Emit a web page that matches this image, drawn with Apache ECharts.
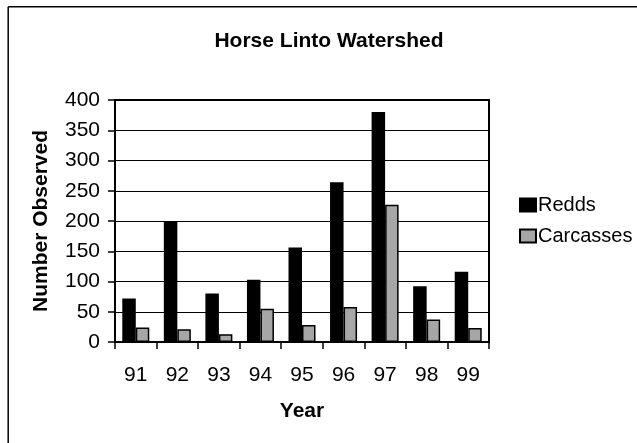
<!DOCTYPE html>
<html>
<head>
<meta charset="utf-8">
<script src="https://cdn.jsdelivr.net/npm/echarts@6/dist/echarts.min.js"></script>
<style>
  html, body { margin: 0; padding: 0; background: #fff; }
  #chart { width: 637px; height: 443px; }
</style>
</head>
<body>
<div id="chart"></div>
<script>
// Horse Linto Watershed: redds and carcasses counted per survey year
const years = ['91', '92', '93', '94', '95', '96', '97', '98', '99'];
const redds = [72, 200, 80, 103, 156, 264, 380, 92, 116];
const carcasses = [24, 21, 13, 55, 28, 58, 227, 37, 23];
const yTicks = { min: 0, max: 400, interval: 50 };

const FONT = '"Liberation Sans", Arial, sans-serif';

const chart = echarts.init(document.getElementById('chart'), null, { renderer: 'canvas' });

chart.setOption({
  animation: false,
  backgroundColor: '#ffffff',
  textStyle: { fontFamily: FONT, color: '#000' },
  title: {
    text: 'Horse Linto Watershed',
    left: 329,
    top: 31,
    padding: 0,
    textAlign: 'center',
    textStyle: { fontFamily: FONT, fontSize: 21, fontWeight: 'bold', color: '#000' }
  },
  legend: {
    orient: 'vertical',
    left: 519,
    top: 195,
    padding: 0,
    itemWidth: 16,
    itemHeight: 13,
    itemGap: 11,
    icon: 'rect',
    textStyle: { fontFamily: FONT, fontSize: 20, color: '#000', padding: [0, 0, 0, -3] },
    data: ['Redds', 'Carcasses']
  },
  grid: {
    left: 115,
    top: 100,
    right: 148,
    bottom: 101,
    show: true,
    borderColor: '#000',
    borderWidth: 2,
    containLabel: false
  },
  xAxis: {
    type: 'category',
    data: years,
    name: 'Year',
    nameLocation: 'middle',
    nameGap: 59,
    nameTextStyle: { fontFamily: FONT, fontSize: 21, fontWeight: 'bold', color: '#000' },
    axisLine: { lineStyle: { color: '#000', width: 2 } },
    axisTick: { show: true, length: 7, lineStyle: { color: '#000', width: 1.5 } },
    axisLabel: { fontFamily: FONT, fontSize: 21, color: '#000', margin: 23 }
  },
  yAxis: {
    type: 'value',
    min: yTicks.min,
    max: yTicks.max,
    interval: yTicks.interval,
    name: 'Number Observed',
    nameLocation: 'middle',
    nameRotate: 90,
    nameGap: 63,
    nameTextStyle: { fontFamily: FONT, fontSize: 21, fontWeight: 'bold', color: '#000' },
    axisLine: { show: true, lineStyle: { color: '#000', width: 2 } },
    axisTick: { show: true, length: 7, lineStyle: { color: '#000', width: 1.5 } },
    axisLabel: { fontFamily: FONT, fontSize: 21, color: '#000', margin: 15 },
    splitLine: { show: true, lineStyle: { color: '#000', width: 1 } }
  },
  series: [
    {
      name: 'Redds',
      type: 'bar',
      data: redds,
      barWidth: 13.5,
      barGap: '0%',
      itemStyle: { color: '#000000', borderColor: '#000', borderWidth: 1.5 }
    },
    {
      name: 'Carcasses',
      type: 'bar',
      data: carcasses,
      barWidth: 13.5,
      barGap: '0%',
      itemStyle: { color: '#a6a6a6', borderColor: '#000', borderWidth: 1.5 }
    }
  ],
  graphic: [
    // chart frame along the left and top edges
    { type: 'line', shape: { x1: 8.2, y1: 6.8, x2: 8.2, y2: 443 }, style: { stroke: '#000', lineWidth: 1.5 } },
    { type: 'line', shape: { x1: 8.2, y1: 6.8, x2: 637, y2: 6.8 }, style: { stroke: '#000', lineWidth: 1.5 } }
  ]
});
</script>
</body>
</html>
